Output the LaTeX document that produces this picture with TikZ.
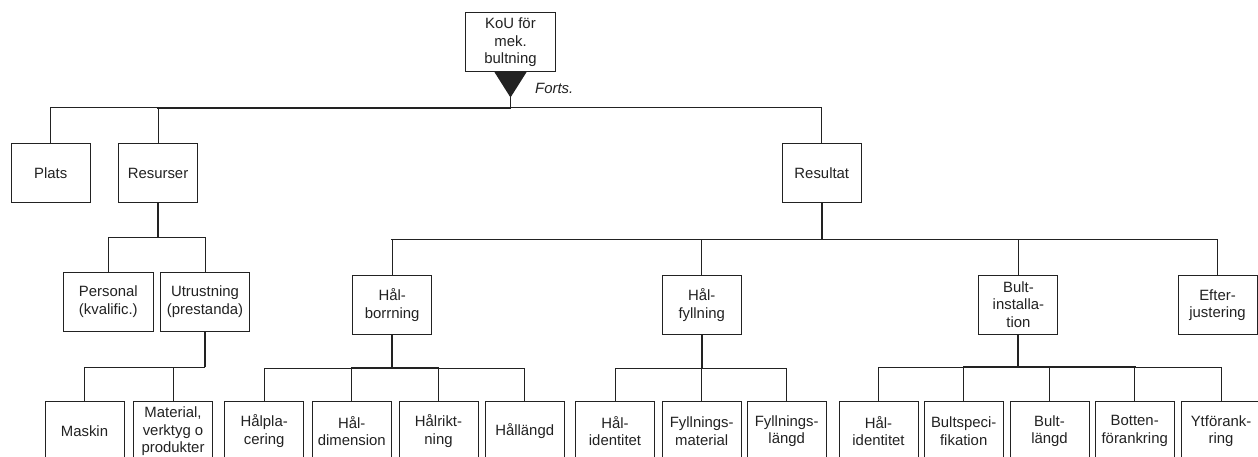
\documentclass[tikz,border=0pt]{standalone}
\usepackage{fontspec}
\setmainfont{Liberation Sans}
\usetikzlibrary{calc}
\definecolor{ink}{HTML}{222222}
\begin{document}
\begin{tikzpicture}[x=1pt,y=-1pt,
  box/.style={draw=ink, line width=1pt, fill=white, minimum width=79pt, minimum height=59pt,
    inner sep=0pt, align=center, text=ink, font=\fontsize{14.9}{17.7}\selectfont},
  widebox/.style={minimum width=89.5pt},
  link/.style={draw=ink, line width=1pt},
  stem/.style={draw=ink, line width=2pt},
  heavy/.style={draw=ink, line width=1.8pt, line cap=rect},
  medium/.style={draw=ink, line width=1.4pt},
]
\useasboundingbox (0,0) rectangle (1258,457);
\clip (0,0) rectangle (1258,457);
\fill[white] (0,0) rectangle (1258,457);

% root
\node[box, minimum width=90pt] (kou) at (510.5,42.2) {KoU för\\mek.\\bultning};
\coordinate (apex) at ($(kou.south)+(0,25.3)$);
\coordinate (rootbus) at ($(kou.south)+(0,35.6)$);
\node[anchor=west, inner sep=0pt, text=ink, font=\fontsize{14.9}{17}\selectfont\itshape] (forts) at (535,88) {Forts.};

% first level
\node[box] (plats) at (50.7,173.5) {Plats};
\node[box] (resurser) at (158,173.5) {Resurser};
\node[box] (resultat) at (821.8,173.5) {Resultat};

% second level
\node[box,widebox] (personal) at (108.3,301.5) {Personal\\(kvalific.)};
\node[box,widebox] (utrustning) at (205,301.5) {Utrustning\\(prestanda)};
\node[box] (halborr) at (392.2,305.3) {Hål-\\borrning};
\node[box] (halfyll) at (701.7,305.3) {Hål-\\fyllning};
\node[box] (bult) at (1018.4,304.6) {Bult-\\installa-\\tion};
\node[box] (efter) at (1217.5,305.3) {Efter-\\justering};

% third level
\node[box] (maskin) at (84.5,431.2) {Maskin};
\node[box] (material) at (173,431.2) {Material,\\verktyg o\\produkter};
\node[box] (halplac) at (264.2,431.2) {Hålpla-\\cering};
\node[box] (haldim) at (351.8,431.2) {Hål-\\dimension};
\node[box] (halrikt) at (438.5,431.2) {Hålrikt-\\ning};
\node[box] (hallangd) at (524.7,431.2) {Hållängd};
\node[box] (halid) at (615,431.2) {Hål-\\identitet};
\node[box] (fyllmat) at (701.7,431.2) {Fyllnings-\\material};
\node[box] (fylllangd) at (786.7,431.2) {Fyllnings-\\längd};
\node[box] (halidb) at (878.5,431.2) {Hål-\\identitet};
\node[box] (bultspec) at (963.7,431.2) {Bultspeci-\\fikation};
\node[box] (bultlangd) at (1049.5,431.2) {Bult-\\längd};
\node[box] (botten) at (1134.7,431.2) {Botten-\\förankring};
\node[box] (ytf) at (1221,431.2) {Ytförank-\\ring};

% root connector with its marker
\draw[link] (kou.south) -- (rootbus);
\fill[ink] ($(kou.south)+(-16,0)$) -- ($(kou.south)+(16,0)$) -- (apex) -- cycle;
\draw[link] (rootbus) -| (plats.north);
\draw[link] (rootbus) -| (resurser.north);
\draw[link] (rootbus) -| (resultat.north);
\draw[heavy] (resurser.north |- rootbus) -- (rootbus);

% Resurser
\coordinate (resbus) at ($(resurser.south)+(0,34)$);
\draw[stem] (resurser.south) -- (resbus);
\draw[link] (resbus) -| (personal.north);
\draw[link] (resbus) -| (utrustning.north);

% Utrustning
\coordinate (utbus) at ($(utrustning.south)+(0,35.7)$);
\draw[stem] (utrustning.south) -- (utbus);
\draw[link] (utbus) -| (maskin.north);
\draw[link] (utbus) -| (material.north);
\draw[medium] (maskin.north |- utbus) -- (utbus);

% Resultat
\coordinate (rsbus) at ($(resultat.south)+(0,36)$);
\draw[stem] (resultat.south) -- (rsbus);
\foreach \c in {halborr, halfyll, bult, efter}
  \draw[link] (rsbus) -| (\c.north);
\draw[heavy] (halborr.north |- rsbus) -- (bult.north |- rsbus);

% Hålborrning
\coordinate (hbbus) at ($(halborr.south)+(0,33)$);
\draw[stem] (halborr.south) -- (hbbus);
\foreach \c in {halplac, haldim, halrikt, hallangd}
  \draw[link] (hbbus) -| (\c.north);
\draw[heavy] (haldim.north |- hbbus) -- (halrikt.north |- hbbus);

% Hålfyllning
\coordinate (hfbus) at ($(halfyll.south)+(0,33)$);
\draw[stem] (halfyll.south) -- (hfbus);
\foreach \c in {halid, fyllmat, fylllangd}
  \draw[link] (hfbus) -| (\c.north);
\draw[medium] (halid.north |- hfbus) -- (fylllangd.north |- hfbus);

% Bultinstallation
\coordinate (bibus) at ($(bult.south)+(0,32.6)$);
\draw[stem] (bult.south) -- (bibus);
\foreach \c in {halidb, bultspec, bultlangd, botten, ytf}
  \draw[link] (bibus) -| (\c.north);
\draw[heavy] (bultspec.north |- bibus) -- (botten.north |- bibus);
\end{tikzpicture}
\end{document}
